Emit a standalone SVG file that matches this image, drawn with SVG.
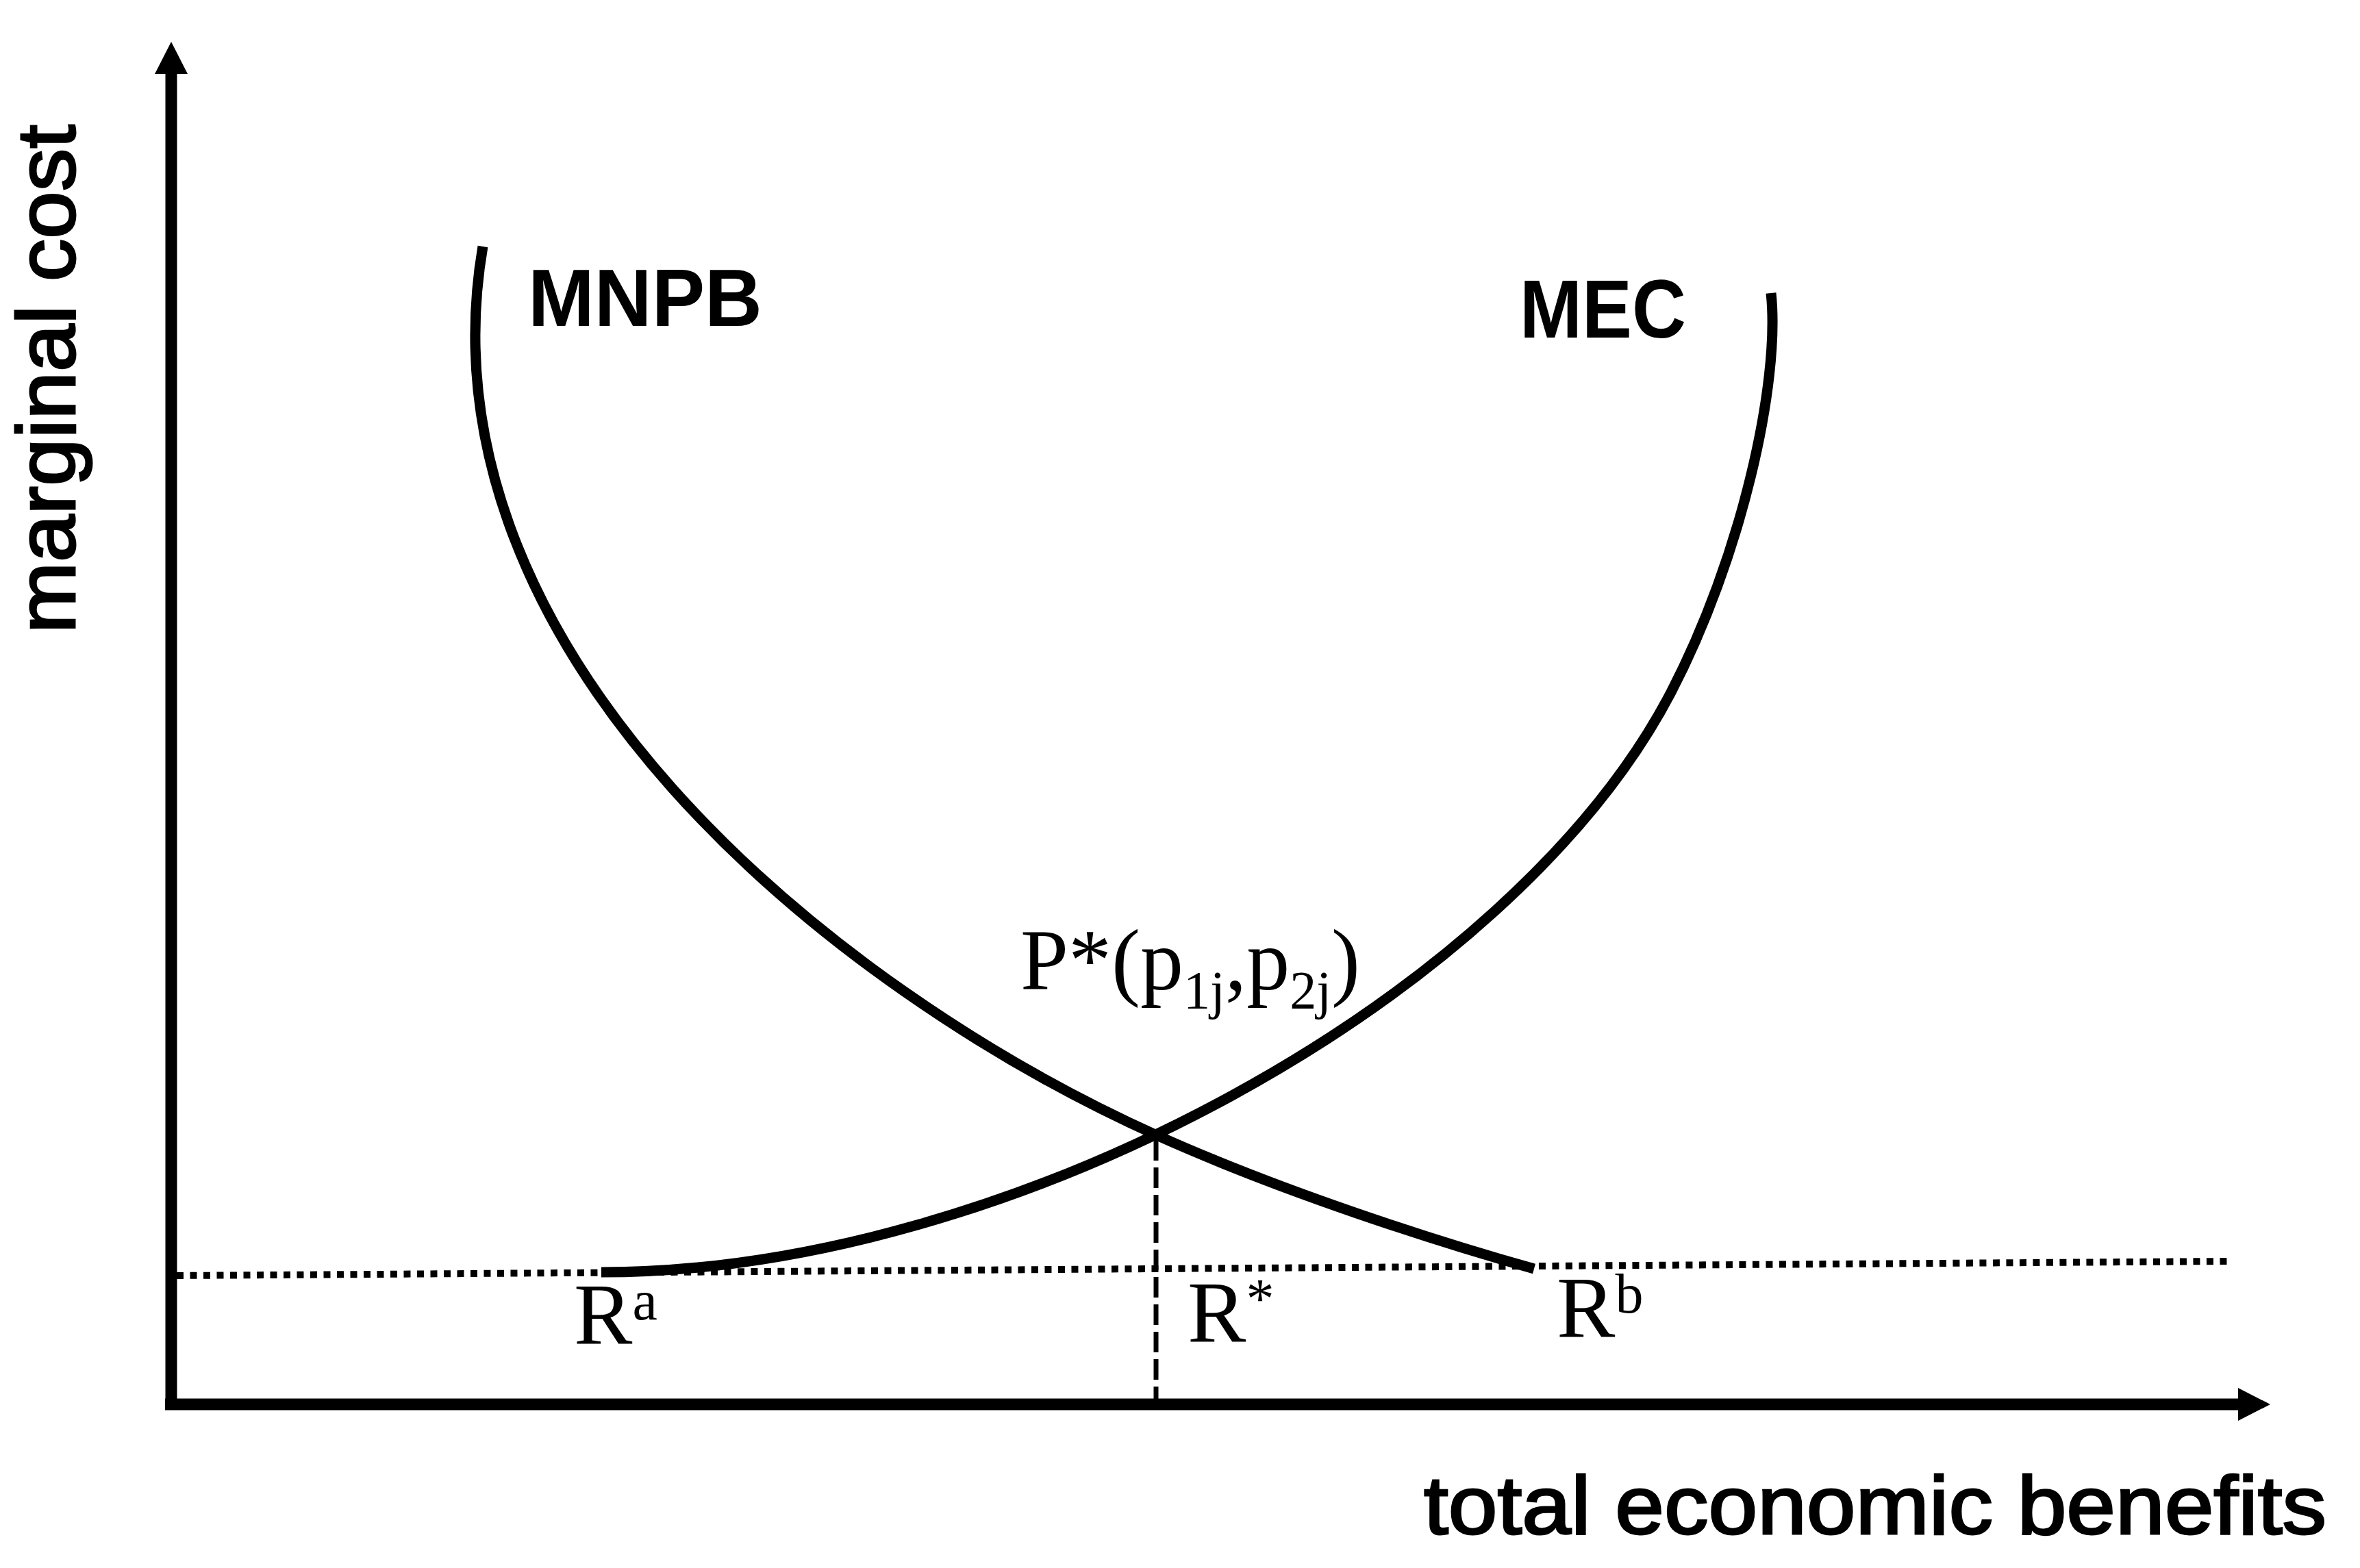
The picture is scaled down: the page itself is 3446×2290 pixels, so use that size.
<svg xmlns="http://www.w3.org/2000/svg" width="3446" height="2290" viewBox="0 0 3446 2290">
<style>
.axis{stroke:#000;stroke-width:17;fill:none}
.curve{stroke:#000;stroke-width:15;fill:none;stroke-linecap:butt;stroke-linejoin:round}
.dot{stroke:#000;stroke-width:10;fill:none;stroke-dasharray:10 9.5}
.dash{stroke:#000;stroke-width:7;fill:none;stroke-dasharray:30 10}
.sans{font-family:"Liberation Sans",Arial,sans-serif;fill:#000}
.thick{stroke:#000;stroke-width:3}
.serif{font-family:"Liberation Serif","Times New Roman",serif;fill:#000}
</style>
<rect width="3446" height="2290" fill="#fff"/>
<g id="axes">
  <line class="axis" x1="250" y1="2059" x2="250" y2="100"/>
  <polygon points="250,61 226,108 274,108" fill="#000"/>
  <line class="axis" x1="241" y1="2051" x2="3275" y2="2051"/>
  <polygon points="3315,2051 3268,2027 3268,2075" fill="#000"/>
  <text class="sans thick" transform="translate(109,925) rotate(-90)" font-size="120" textLength="743" lengthAdjust="spacingAndGlyphs">marginal cost</text>
  <text class="sans thick" x="2079" y="2240" font-size="120" textLength="1318" lengthAdjust="spacingAndGlyphs">total economic benefits</text>
</g>
<g id="connectors">
  <line class="dot" x1="258" y1="1863" x2="3253" y2="1842"/>
  <line class="dash" x1="1688" y1="1665" x2="1688" y2="2050"/>
</g>
<g id="mnpb">
  <path class="curve" d="M705 360 C604.2 951.6 1214.8 1444.8 1689 1658 C1871.4 1740 2095.5 1812.5 2240 1853"/>
  <text class="sans" x="771" y="476" font-size="119" font-weight="bold" textLength="342" lengthAdjust="spacingAndGlyphs">MNPB</text>
</g>
<g id="mec">
  <path class="curve" d="M878 1858 C1478 1858 2209 1454.5 2440 1011 C2541.6 815.9 2600 560 2586 428"/>
  <text class="sans" x="2219" y="493" font-size="120" font-weight="bold" textLength="243" lengthAdjust="spacingAndGlyphs">MEC</text>
</g>
<g id="point-p">
  <text class="serif" x="1490" y="1445" font-size="126">P*(p<tspan font-size="78" dy="27">1j</tspan><tspan dy="-27">,p</tspan><tspan font-size="78" dy="27">2j</tspan><tspan dy="-27">)</tspan></text>
</g>
<g id="r-a">
  <text class="serif" x="838" y="1963" font-size="128">R<tspan font-size="82" dy="-36">a</tspan></text>
</g>
<g id="r-star">
  <text class="serif" x="1734" y="1960" font-size="128">R<tspan font-size="82" dy="-36">*</tspan></text>
</g>
<g id="r-b">
  <text class="serif" x="2273" y="1953" font-size="128">R<tspan font-size="82" dy="-36">b</tspan></text>
</g>
</svg>
